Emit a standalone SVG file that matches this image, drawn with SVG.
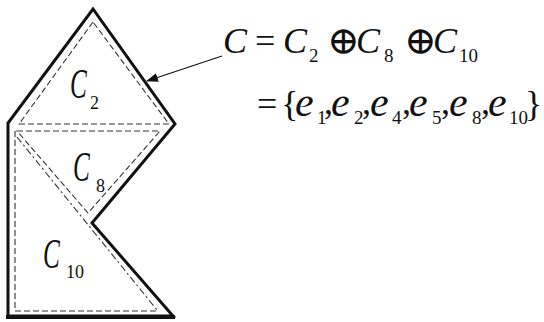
<svg xmlns="http://www.w3.org/2000/svg" width="544" height="322" viewBox="0 0 544 322">
<style>
.thick{fill:none;stroke:#111;stroke-width:3;stroke-linejoin:miter}
.dash{fill:none;stroke:#333;stroke-width:1.1;stroke-dasharray:6,3}
.dd{fill:none;stroke:#333;stroke-width:1.1;stroke-dasharray:7,3,2,3}
.i{font-style:italic}
</style>
<defs>
<marker id="ah" markerWidth="12" markerHeight="9" refX="11" refY="4.5" orient="auto" markerUnits="userSpaceOnUse" viewBox="0 0 12 9">
<path d="M0,0 L12,4.5 L0,9 Z" fill="#111"/>
</marker>
</defs>
<rect width="544" height="322" fill="#fff"/>
<g id="outline">
<path class="thick" d="M8,316 L8,123 L93,9 L175,124 L92,223 L173,316 Z"/>
<line x1="6" y1="317" x2="175" y2="317" stroke="#111" stroke-width="4"/>
</g>
<g font-family="'Liberation Serif', 'DejaVu Serif', serif" fill="#111">
<g id="C2">
<path class="dash" d="M93,22 L19,124 L169,124 Z"/>
<text class="i" transform="translate(70,98) scale(0.6,1)" font-size="42">C</text>
<text x="90" y="109" font-size="18">2</text>
</g>
<g id="C8">
<path class="dash" d="M17,131 L160,131 L88,213 Z"/>
<text class="i" transform="translate(73,181) scale(0.6,1)" font-size="42">C</text>
<text x="96" y="192" font-size="18">8</text>
</g>
<g id="C10">
<path class="dash" d="M15,131 L15,311 L157,311"/>
<path class="dd" d="M17,137 L157,310"/>
<text class="i" transform="translate(43,268) scale(0.6,1)" font-size="42">C</text>
<text x="66" y="278" font-size="18">10</text>
</g>
<g id="connectors">
<line x1="222" y1="56" x2="147" y2="81" stroke="#111" stroke-width="1.3" marker-end="url(#ah)"/>
</g>
<g id="formula">
<text font-size="36" y="53">
<tspan class="i" x="223">C</tspan><tspan x="255">=</tspan><tspan class="i" x="283">C</tspan><tspan class="i" x="356">C</tspan><tspan class="i" x="433">C</tspan>
</text>
<text font-size="39" y="54"><tspan x="327">⊕</tspan><tspan x="404">⊕</tspan></text>
<text font-size="19" y="62"><tspan x="309">2</tspan><tspan x="384">8</tspan><tspan x="459">10</tspan></text>
<text font-size="36" y="116">
<tspan x="257">=</tspan><tspan x="281">{</tspan><tspan x="525">}</tspan>
</text>
<text class="i" font-size="42" y="116"><tspan x="295">e</tspan><tspan x="331">e</tspan><tspan x="370">e</tspan><tspan x="409">e</tspan><tspan x="449">e</tspan><tspan x="488">e</tspan></text>
<text font-size="36" y="114"><tspan x="324">,</tspan><tspan x="362">,</tspan><tspan x="402">,</tspan><tspan x="441">,</tspan><tspan x="481">,</tspan></text>
<text font-size="19" y="124"><tspan x="317">1</tspan><tspan x="354">2</tspan><tspan x="392">4</tspan><tspan x="432">5</tspan><tspan x="472">8</tspan><tspan x="509">10</tspan></text>
</g>
</g>
</svg>
